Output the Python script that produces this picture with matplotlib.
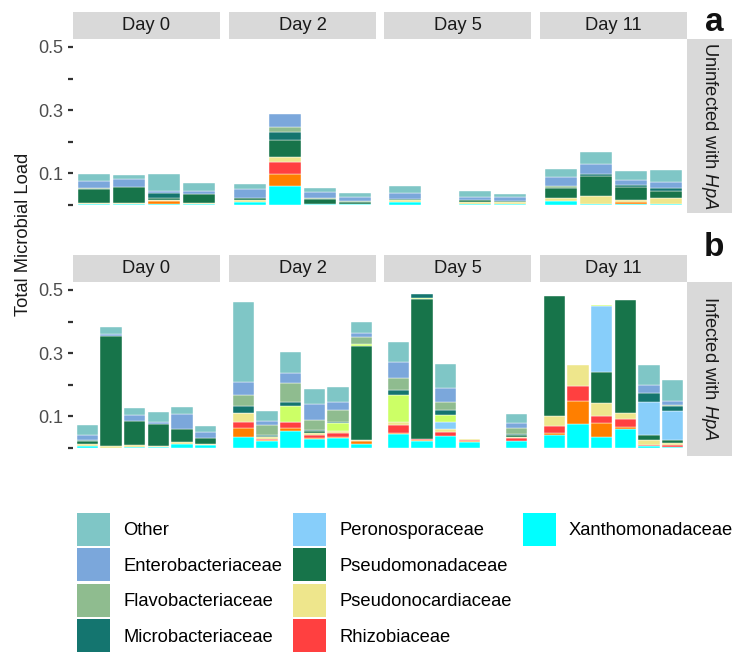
import numpy as np
import matplotlib
matplotlib.use('Agg')
import matplotlib.pyplot as plt
from matplotlib.patches import Patch

plt.rcParams['font.family'] = ['Liberation Sans', 'DejaVu Sans']
plt.rcParams['mathtext.fontset'] = 'custom'
plt.rcParams['mathtext.rm'] = 'Liberation Sans'
plt.rcParams['mathtext.it'] = 'Liberation Sans:italic'

# stacking order, bottom -> top (two families are drawn but not in the legend)
families = ['Xanthomonadaceae', 'unlisted_orange', 'Rhizobiaceae', 'Pseudonocardiaceae',
            'Pseudomonadaceae', 'Peronosporaceae', 'unlisted_lime', 'Microbacteriaceae',
            'Flavobacteriaceae', 'Enterobacteriaceae', 'Other']
colors = ['#00FFFF', '#FF7F00', '#FF4040', '#EEE68C',
          '#17744A', '#87CEFA', '#CCFF66', '#14756F',
          '#8FBC8F', '#7BA7DB', '#7FC6C6']
legend_order = ['Other', 'Enterobacteriaceae', 'Flavobacteriaceae', 'Microbacteriaceae',
                'Peronosporaceae', 'Pseudomonadaceae', 'Pseudonocardiaceae', 'Rhizobiaceae',
                'Xanthomonadaceae']

days = ['Day 0', 'Day 2', 'Day 5', 'Day 11']
conditions = ['Uninfected with $\\it{HpA}$', 'Infected with $\\it{HpA}$']
panel_tags = ['a', 'b']

# one row per bar, values in the `families` order
uninf_d0 = [[.004, 0, 0, .003, .043, 0, 0, 0, .003, .022, .022],
            [.003, 0, 0, .003, .052, 0, 0, 0, 0, .024, .013],
            [.002, .010, 0, .004, .006, 0, 0, .016, 0, .007, .054],
            [.003, 0, 0, .005, .026, 0, 0, 0, 0, .010, .026]]
uninf_d2 = [[.010, 0, 0, .005, .007, 0, 0, 0, 0, .030, .016],
            [.061, .036, .038, .016, .054, 0, 0, .027, .014, .043, 0],
            [.002, 0, 0, .003, .014, 0, 0, 0, .003, .020, .011],
            [.002, 0, 0, .003, .005, 0, 0, 0, .002, .015, .012]]
uninf_d5 = [[.010, 0, 0, .005, .004, 0, 0, 0, 0, .020, .020],
            [0, 0, 0, 0, 0, 0, 0, 0, 0, 0, 0],
            [.003, 0, 0, .008, .004, 0, 0, 0, 0, .010, .021],
            [.004, 0, 0, .005, .005, 0, 0, 0, 0, .010, .011]]
uninf_d11 = [[.013, 0, 0, .008, .032, 0, 0, 0, .008, .028, .024],
             [.005, 0, 0, .023, .063, 0, 0, .008, 0, .032, .037],
             [.003, .007, 0, .006, .041, 0, 0, .008, 0, .013, .029],
             [.002, 0, 0, .019, .023, 0, 0, .010, 0, .019, .037]]

inf_d0 = [[.007, 0, 0, .006, .008, 0, 0, .003, .002, .016, .032],
          [0, 0, 0, .008, .346, 0, 0, 0, 0, .008, .021],
          [.004, 0, 0, .006, .077, 0, 0, 0, 0, .018, .021],
          [.002, 0, 0, .005, .069, 0, 0, 0, 0, .007, .032],
          [.014, 0, 0, .006, .040, 0, 0, 0, 0, .048, .023],
          [.010, 0, 0, .002, .019, 0, 0, 0, 0, .021, .018]]
inf_d2 = [[.035, .028, .018, .029, .002, 0, 0, .021, .035, .040, .253],
          [.021, .003, .006, .004, .005, 0, 0, .003, .030, .014, .032],
          [.055, .008, .018, .003, 0, 0, .050, .013, .058, .032, .066],
          [.029, .003, .010, .007, .005, 0, 0, .003, .032, .049, .048],
          [.032, .002, .014, .005, 0, 0, .026, .005, .037, .026, .045],
          [.014, .007, 0, .005, .297, 0, .006, 0, .021, .013, .037]]
inf_d5 = [[.044, .005, .024, .010, 0, 0, .084, .017, .036, .053, .063],
          [.021, .003, .004, 0, .442, 0, .006, .010, 0, 0, 0],
          [.037, 0, .014, .009, 0, .024, .021, .014, .028, .044, .074],
          [.018, .003, .005, .002, 0, 0, 0, 0, 0, 0, 0],
          [0, 0, 0, 0, 0, 0, 0, 0, 0, 0, 0],
          [.023, 0, .008, .005, .005, 0, 0, .003, .021, .015, .029]]
inf_d11 = [[.040, .009, .021, .033, .379, 0, 0, 0, 0, 0, 0],
           [.076, .072, .047, .068, 0, 0, 0, 0, 0, 0, 0],
           [.034, .045, .024, .039, .100, .206, .004, 0, 0, 0, 0],
           [.060, .008, .024, .018, .358, 0, 0, 0, 0, 0, 0],
           [.008, 0, .003, .015, .014, .107, 0, .026, 0, .026, .063],
           [.004, 0, .006, .007, .009, .091, 0, .015, .003, .014, .066]]

panels = [[uninf_d0, uninf_d2, uninf_d5, uninf_d11],
          [inf_d0, inf_d2, inf_d5, inf_d11]]

yticks = [0.5, 0.4, 0.3, 0.2, 0.1, 0.0]
yticklabels = ['0.5', '', '0.3', '', '0.1', '']

W, H = 734, 654
fig = plt.figure(figsize=(W / 100, H / 100), dpi=100)


def add_box(x0, y0, x1, y1, **kw):
    # pixel box (top-left origin) -> figure axes
    return fig.add_axes([x0 / W, 1 - y1 / H, (x1 - x0) / W, (y1 - y0) / H], **kw)


col_px = [(73, 220), (229, 376), (384, 531), (540, 687)]
row_px = [dict(strip=(12, 39), panel=(39, 213), tag_y=31),
          dict(strip=(255, 282), panel=(282, 456), tag_y=256)]
strip_col = '#D9D9D9'
fs = 13.2

for r, row in enumerate(row_px):
    py0, py1 = row['panel']
    for c, (px0, px1) in enumerate(col_px):
        ax = add_box(px0, py0, px1, py1)
        data = np.array(panels[r][c])
        n = data.shape[0]
        x = np.arange(1, n + 1)
        bottom = np.zeros(n)
        for k in range(len(families)):
            vals = data[:, k]
            m = vals > 0
            ax.bar(x[m], vals[m], 0.9, bottom=bottom[m], color=colors[k],
                   edgecolor='white', linewidth=0.3)
            bottom += vals
        ax.set_xlim(0.4, n + 0.6)
        ax.set_ylim(-0.025, 0.525)
        for s in ax.spines.values():
            s.set_visible(False)
        ax.set_xticks([])
        if c == 0:
            ax.set_yticks(yticks)
            ax.set_yticklabels(yticklabels)
            ax.tick_params(axis='y', length=3.6, width=1.6, color='#333333',
                           labelsize=13, labelcolor='#4D4D4D', pad=3.6)
        else:
            ax.set_yticks([])

        sy0, sy1 = row['strip']
        st = add_box(px0, sy0, px1, sy1, facecolor=strip_col)
        st.set_xticks([])
        st.set_yticks([])
        for s in st.spines.values():
            s.set_visible(False)
        st.text(0.5, 0.5, days[c], ha='center', va='center', fontsize=fs,
                color='#1A1A1A', transform=st.transAxes)

    rs = add_box(687, py0, 732, py1, facecolor=strip_col)
    rs.set_xticks([])
    rs.set_yticks([])
    for s in rs.spines.values():
        s.set_visible(False)
    rs.text(0.5, 0.5, conditions[r], rotation=-90, ha='center', va='center',
            fontsize=fs, color='#1A1A1A', transform=rs.transAxes)
    fig.text(714 / W, 1 - row['tag_y'] / H, panel_tags[r], ha='center', va='baseline',
             fontsize=24, fontweight='bold', color='#111111')

fig.text(24 / W, 1 - 234 / H, 'Total Microbial Load', rotation=90, ha='center',
         va='center', fontsize=fs, color='#1A1A1A')

col_of = dict(zip(families, colors))
handles = [Patch(facecolor=col_of[f], edgecolor='none') for f in legend_order]
labels = list(legend_order)
for _ in range(3):
    handles.append(Patch(visible=False))
    labels.append('')
fig.legend(handles, labels, ncol=3, loc='upper left',
           bbox_to_anchor=(77 / W, 1 - 513 / H), frameon=False, fontsize=fs,
           handlelength=1.8, handleheight=2.39, labelspacing=0.136,
           handletextpad=0.71, columnspacing=0.6, borderpad=0, borderaxespad=0)

fig.savefig('out.png', dpi=100)
